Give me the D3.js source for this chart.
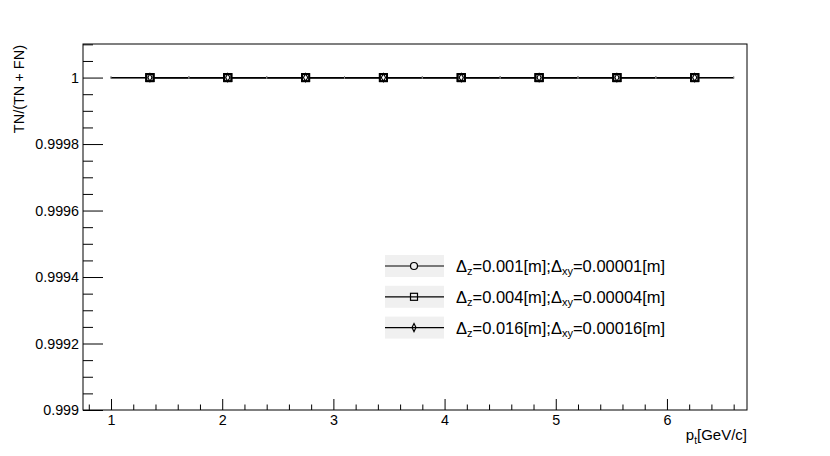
<!DOCTYPE html>
<html>
<head>
<meta charset="utf-8">
<script src="https://cdn.jsdelivr.net/npm/d3@7"></script>
<style>
  body { margin: 0; background: #fff; }
  svg { display: block; font-family: "Liberation Sans", Arial, Helvetica, sans-serif; }
</style>
</head>
<body>
<svg id="chart" width="830" height="456"></svg>
<script>
// ---- data ----
const binCenters = [1.35, 2.05, 2.75, 3.45, 4.15, 4.85, 5.55, 6.25];
const binHalfWidth = 0.35;
const seriesA = [1, 1, 1, 1, 1, 1, 1, 1]; // Δz=0.001, Δxy=0.00001
const seriesB = [1, 1, 1, 1, 1, 1, 1, 1]; // Δz=0.004, Δxy=0.00004
const seriesC = [1, 1, 1, 1, 1, 1, 1, 1]; // Δz=0.016, Δxy=0.00016
const seriesNames = [
  {dz: "0.001", dxy: "0.00001"},
  {dz: "0.004", dxy: "0.00004"},
  {dz: "0.016", dxy: "0.00016"}
];
const seriesMarkers = ["circle", "square", "diamond"];
const xMajorTicks = [1, 2, 3, 4, 5, 6];
const yMajorTicks = [0.999, 0.9992, 0.9994, 0.9996, 0.9998, 1];
const xDomain = [0.748, 6.72];
const yDomain = [0.999, 1.000101];

// ---- layout ----
const L = 83, R = 747, T = 44, B = 410;
const svg = d3.select("#chart");
const x = d3.scaleLinear().domain(xDomain).range([L, R]);
const y = d3.scaleLinear().domain(yDomain).range([B, T]);

const fmtY = d => String(+d.toFixed(4));

// minor ticks
const xMinor = d3.range(0.8, 6.72, 0.2).map(v => +v.toFixed(2)).filter(v => Math.abs(v - Math.round(v)) > 1e-6);
const yMinor = d3.range(0, 23).map(i => +(0.999 + i * 0.00005).toFixed(5)).filter(v => v <= yDomain[1] && !yMajorTicks.some(t => Math.abs(t - v) < 1e-9));

// frame
svg.append("rect").attr("x", L).attr("y", T).attr("width", R - L).attr("height", B - T)
  .attr("fill", "none").attr("stroke", "#000").attr("stroke-width", 1);

// x axis
svg.append("g").attr("transform", `translate(0,${B})`)
  .call(d3.axisBottom(x).tickValues(xMajorTicks).tickSize(-11).tickPadding(5).tickFormat(d3.format("d")));
svg.append("g").attr("transform", `translate(0,${B})`)
  .call(d3.axisBottom(x).tickValues(xMinor).tickSize(-5.5).tickFormat(""));
// y axis
svg.append("g").attr("transform", `translate(${L},0)`)
  .call(d3.axisLeft(y).tickValues(yMajorTicks).tickSize(-20).tickPadding(4).tickFormat(fmtY));
svg.append("g").attr("transform", `translate(${L},0)`)
  .call(d3.axisLeft(y).tickValues(yMinor).tickSize(-10).tickFormat(""));

svg.selectAll(".domain").remove();
svg.selectAll(".tick line").attr("stroke", "#000").attr("stroke-width", 1);
svg.selectAll(".tick text").attr("font-size", 14.3).attr("fill", "#000")
  .attr("font-family", "'Liberation Sans', Arial, sans-serif");

// axis titles
svg.append("text").attr("transform", `translate(24,${T + 1}) rotate(-90)`)
  .attr("text-anchor", "end").attr("font-size", 14.5).text("TN/(TN + FN)");
const xt = svg.append("text").attr("x", R).attr("y", 440).attr("text-anchor", "end").attr("font-size", 15);
xt.append("tspan").text("p");
xt.append("tspan").attr("dy", 4).attr("font-size", 10).text("t");
xt.append("tspan").attr("dy", -4).text("[GeV/c]");

// data: horizontal error bars / connecting line
const allSeries = [seriesA, seriesB, seriesC];
allSeries.forEach((vals) => {
  const pts = binCenters.map((c, i) => ({c, v: vals[i]}));
  svg.append("path")
    .attr("d", d3.line().x(d => x(d.c)).y(d => y(d.v))(pts))
    .attr("fill", "none").attr("stroke", "#000").attr("stroke-width", 1.2);
  svg.selectAll(null).data(pts).enter().append("line")
    .attr("x1", d => x(d.c - binHalfWidth)).attr("x2", d => x(d.c + binHalfWidth))
    .attr("y1", d => y(d.v)).attr("y2", d => y(d.v))
    .attr("stroke", "#000").attr("stroke-width", 1.2);
  svg.selectAll(null).data(pts).enter().append("line")
    .attr("x1", d => x(d.c - binHalfWidth)).attr("x2", d => x(d.c - binHalfWidth))
    .attr("y1", d => y(d.v) - 1).attr("y2", d => y(d.v) + 1)
    .attr("stroke", "#888").attr("stroke-width", 1);
  svg.selectAll(null).data(pts).enter().append("line")
    .attr("x1", d => x(d.c + binHalfWidth)).attr("x2", d => x(d.c + binHalfWidth))
    .attr("y1", d => y(d.v) - 1).attr("y2", d => y(d.v) + 1)
    .attr("stroke", "#888").attr("stroke-width", 1);
});

function drawMarker(g, type, cx, cy) {
  if (type === "circle") {
    g.append("circle").attr("cx", cx).attr("cy", cy).attr("r", 3.5)
      .attr("fill", "none").attr("stroke", "#000").attr("stroke-width", 1.2);
  } else if (type === "square") {
    g.append("rect").attr("x", cx - 3.5).attr("y", cy - 3.5).attr("width", 7).attr("height", 7)
      .attr("fill", "none").attr("stroke", "#000").attr("stroke-width", 1.2);
  } else {
    g.append("path").attr("d", `M${cx},${cy - 4}L${cx + 2},${cy}L${cx},${cy + 4}L${cx - 2},${cy}Z`)
      .attr("fill", "none").attr("stroke", "#000").attr("stroke-width", 1.2);
  }
}
const gm = svg.append("g");
allSeries.forEach((vals, s) => {
  binCenters.forEach((c, i) => {
    gm.append("rect").attr("x", x(c) - 3.5).attr("y", y(vals[i]) - 3.5).attr("width", 7).attr("height", 7)
      .attr("fill", "#fff").attr("stroke", "#000").attr("stroke-width", 2);
    drawMarker(gm, seriesMarkers[s], x(c), y(vals[i]));
  });
});
// white center dot like reference
binCenters.forEach((c, i) => {
  gm.append("rect").attr("x", x(c) - 1).attr("y", y(seriesA[i]) - 1).attr("width", 2).attr("height", 2).attr("fill", "#fff");
});

// legend
const legX = 385, legW = 59, legY0 = 266, legDy = 30.8;
seriesNames.forEach((s, i) => {
  const cy = legY0 + i * legDy;
  const g = svg.append("g");
  g.append("rect").attr("x", legX).attr("y", cy - 11).attr("width", legW).attr("height", 22).attr("fill", "#f0f0f0");
  g.append("line").attr("x1", legX).attr("x2", legX + legW).attr("y1", cy).attr("y2", cy)
    .attr("stroke", "#000").attr("stroke-width", 1.2);
  if (seriesMarkers[i] === "circle") {
    g.append("circle").attr("cx", legX + 29).attr("cy", cy).attr("r", 3.5).attr("fill", "#f0f0f0").attr("stroke", "#000").attr("stroke-width", 1.2);
  } else if (seriesMarkers[i] === "square") {
    g.append("rect").attr("x", legX + 25.5).attr("y", cy - 3.5).attr("width", 7).attr("height", 7).attr("fill", "none").attr("stroke", "#000").attr("stroke-width", 1.2);
  } else {
    const cx = legX + 29;
    g.append("path").attr("d", `M${cx},${cy - 4}L${cx + 2},${cy}L${cx},${cy + 4}L${cx - 2},${cy}Z`)
      .attr("fill", "none").attr("stroke", "#000").attr("stroke-width", 1.2);
  }
  const t = g.append("text").attr("x", 456).attr("y", cy + 6).attr("font-size", 16.5);
  t.append("tspan").text("Δ");
  t.append("tspan").attr("dy", 3).attr("font-size", 11).text("z");
  t.append("tspan").attr("dy", -3).text(`=${s.dz}[m];Δ`);
  t.append("tspan").attr("dy", 3).attr("font-size", 11).text("xy");
  t.append("tspan").attr("dy", -3).text(`=${s.dxy}[m]`);
});
</script>
</body>
</html>
